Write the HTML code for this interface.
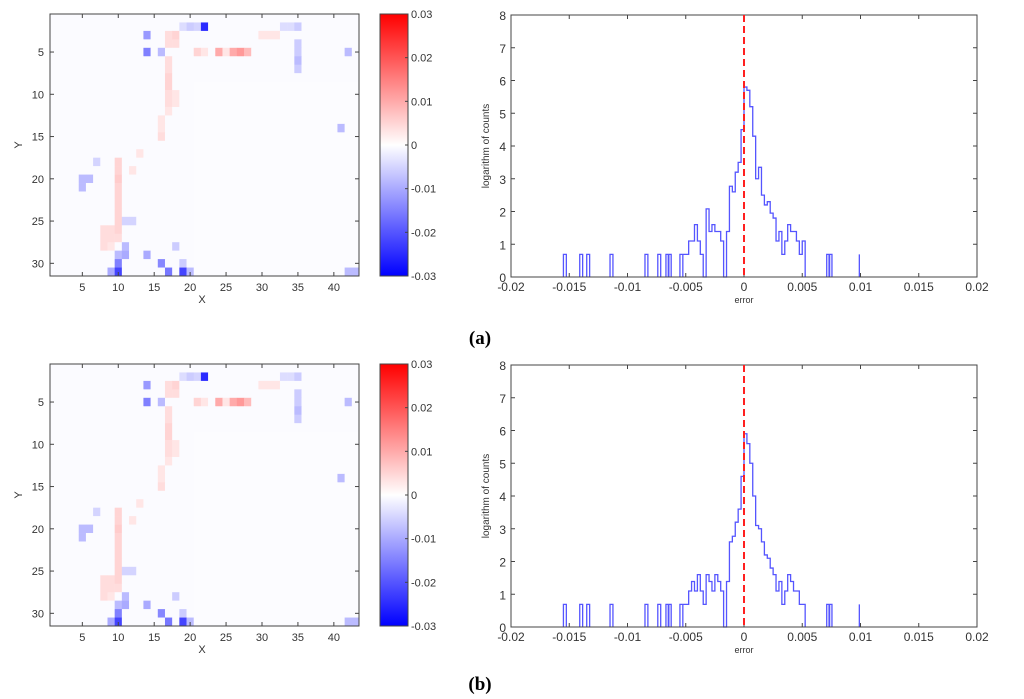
<!DOCTYPE html>
<html><head><meta charset="utf-8">
<style>
html,body{margin:0;padding:0;background:#fff;}
svg{display:block;}
text{font-family:"Liberation Sans",sans-serif;fill:#333;}
</style></head>
<body>
<svg id="fig" width="1024" height="699" viewBox="0 0 1024 699" xmlns="http://www.w3.org/2000/svg">
<defs>
<linearGradient id="cbg" x1="0" y1="1" x2="0" y2="0">
<stop offset="0" stop-color="#0000ff"/><stop offset="0.5" stop-color="#ffffff"/><stop offset="1" stop-color="#ff0000"/>
</linearGradient>
</defs>
<text x="480" y="344" font-weight="bold" font-size="19" text-anchor="middle" style="font-family:'Liberation Serif',serif;fill:#000">(a)</text>
<text x="480" y="690" font-weight="bold" font-size="19" text-anchor="middle" style="font-family:'Liberation Serif',serif;fill:#000">(b)</text>
</svg>
<script>
// ---- data ----
const heatCols = 43, heatRows = 31;
const heatDefault = -0.0005;
// notable cells: [x, y, value]
const heatCells = [
[22,2,-0.025],[21,2,-0.005],[20,2,-0.006],[19,2,-0.004],[14,3,-0.012],[14,5,-0.015],[16,5,-0.008],
[21,5,0.005],[22,5,0.003],[24,5,0.01],[25,5,0.003],[26,5,0.01],[27,5,0.012],[28,5,0.008],
[17,3,0.004],[18,3,0.005],[17,4,0.004],[18,4,0.004],[17,6,0.004],[17,7,0.004],[17,8,0.005],[17,9,0.005],[17,10,0.004],[17,11,0.004],[17,12,0.003],[16,13,0.003],[16,14,0.003],[16,15,0.004],[18,10,0.003],[18,11,0.003],
[30,3,0.003],[31,3,0.003],[32,3,0.003],[33,2,-0.004],[34,2,-0.004],[35,2,-0.006],
[35,4,-0.006],[35,5,-0.006],[35,6,-0.008],[35,7,-0.006],[42,5,-0.008],[41,14,-0.008],
[5,20,-0.008],[5,21,-0.008],[6,20,-0.008],[7,18,-0.005],
[10,18,0.005],[10,19,0.005],[10,20,0.006],[10,21,0.005],[10,22,0.005],[10,23,0.005],[10,24,0.005],[10,25,0.005],[10,26,0.005],[10,27,0.004],
[8,26,0.004],[9,26,0.004],[8,27,0.004],[9,27,0.004],[8,28,0.004],[9,28,0.003],[12,19,0.003],[13,17,0.003],
[10,30,-0.015],[10,31,-0.022],[9,31,-0.01],[11,29,-0.01],[11,28,-0.008],[10,29,-0.008],[16,30,-0.014],[17,31,-0.016],
[19,31,-0.022],[20,31,-0.008],[14,29,-0.01],[19,30,-0.006],[18,28,-0.006],[42,31,-0.008],[43,31,-0.008],[12,25,-0.005],[11,25,-0.005]
];
const cbTicks = [0.03,0.02,0.01,0,-0.01,-0.02,-0.03];
const cbLabels = ['0.03','0.02','0.01','0','-0.01','-0.02','-0.03'];
const heatXTicks = [5,10,15,20,25,30,35,40];
const heatYTicks = [5,10,15,20,25,30];

const histBinStart = -0.00525, histBinWidth = 0.00025;
const histA = [0.69,0.69,1.1,1.1,1.6,1.1,0.69,0,2.08,1.39,1.6,1.39,1.39,1.1,0,1.39,2.77,2.6,3.2,3.5,4.5,5.8,5.7,5.2,4.3,3.0,3.35,2.5,2.2,2.3,1.95,1.8,1.1,1.39,0.69,1.1,1.6,1.39,1.39,1.1,0.69,1.1];
const histB = [0.69,0.69,1.1,1.39,1.1,1.6,1.1,0.69,1.6,1.39,1.1,1.6,1.39,1.1,0,1.39,2.6,2.77,3.2,3.6,4.6,5.9,5.6,5.0,4.0,3.1,3.0,2.6,2.2,2.1,1.8,1.6,1.1,1.39,0.69,1.1,1.6,1.39,1.1,1.1,0.69,0.69];
const spikesA = [-0.0155,-0.0141,-0.0135,-0.0115,-0.0085,-0.0074,-0.0067,-0.0065,-0.0055,0.0071,0.0073];
const spikesB = [-0.0155,-0.0141,-0.0135,-0.0115,-0.0085,-0.0074,-0.0067,-0.0065,-0.0055,0.0071,0.0073];
const spikeH = 0.69;
const thinSpike = 0.0099;
const histXTicks = [-0.02,-0.015,-0.01,-0.005,0,0.005,0.01,0.015,0.02];
const histXLabels = ['-0.02','-0.015','-0.01','-0.005','0','0.005','0.01','0.015','0.02'];
const histYTicks = [0,1,2,3,4,5,6,7,8];

// ---- drawing ----
const NS='http://www.w3.org/2000/svg';
const svg=document.getElementById('fig');
function mk(tag,attrs,parent){const e=document.createElementNS(NS,tag);for(const k in attrs)e.setAttribute(k,attrs[k]);(parent||svg).appendChild(e);return e;}
function col(v){let t=Math.max(-1,Math.min(1,v/0.03));
 if(t>=0){const g=Math.round(255*(1-t));return `rgb(255,${g},${g})`;}
 const g=Math.round(255*(1+t));return `rgb(${g},${g},255)`;}

function drawPanel(dy,hist,spikes,tag){
 const hx0=50,hx1=359,hy0=14+dy,hy1=276+dy;
 const sx=v=>hx0+(v-0.5)*(hx1-hx0)/heatCols, sy=v=>hy0+(v-0.5)*(hy1-hy0)/heatRows;
 const hg=mk('g',{});
 
 
 const grid=[];for(let y=1;y<=heatRows;y++){grid[y]=[];for(let x=1;x<=heatCols;x++)grid[y][x]=(x>20&&y>8)?-0.0003:heatDefault;}
 heatCells.forEach(c=>{grid[c[1]][c[0]]=c[2];});
 for(let y=1;y<=heatRows;y++)for(let x=1;x<=heatCols;x++){
  const r=mk('rect',{x:sx(x-0.5),y:sy(y-0.5),width:(hx1-hx0)/heatCols+0.3,height:(hy1-hy0)/heatRows+0.3,fill:col(grid[y][x])},hg);
  
  
 }
 const hf=mk('rect',{x:hx0,y:hy0,width:hx1-hx0,height:hy1-hy0,fill:'none',stroke:'#444','stroke-width':1});
 
 
 heatXTicks.forEach(t=>{const x=sx(t);
  mk('line',{x1:x,x2:x,y1:hy1,y2:hy1-4,stroke:'#444'});mk('line',{x1:x,x2:x,y1:hy0,y2:hy0+4,stroke:'#444'});
  const tx=mk('text',{x:x,y:hy1+15,'font-size':11,'text-anchor':'middle'});tx.textContent=t;
  
  });
 heatYTicks.forEach(t=>{const y=sy(t);
  mk('line',{x1:hx0,x2:hx0+4,y1:y,y2:y,stroke:'#444'});mk('line',{x1:hx1,x2:hx1-4,y1:y,y2:y,stroke:'#444'});
  const tx=mk('text',{x:hx0-6,y:y+4,'font-size':11,'text-anchor':'end'});tx.textContent=t;
  
  });
 let l=mk('text',{x:202,y:hy1+27,'font-size':11,'text-anchor':'middle'});l.textContent='X';
 
 
 l=mk('text',{x:0,y:0,'font-size':11,'text-anchor':'middle',transform:`translate(22,${(hy0+hy1)/2}) rotate(-90)`});l.textContent='Y';
 
 
 const cx0=380,cx1=408;
 const cb=mk('rect',{x:cx0,y:hy0,width:cx1-cx0,height:hy1-hy0,fill:'url(#cbg)',stroke:'#444'});
 
 
 cbTicks.forEach((t,i)=>{const y=hy1-(t+0.03)/0.06*(hy1-hy0);
  mk('line',{x1:cx1,x2:cx1-3,y1:y,y2:y,stroke:'#444'});
  const tx=mk('text',{x:cx1+3,y:y+4,'font-size':11});tx.textContent=cbLabels[i];
  
  });
 const ax0=511,ax1=977,ay0=15+dy,ay1=277+dy;
 const X=v=>ax0+(v+0.02)/0.04*(ax1-ax0), Y=v=>ay1-v/8*(ay1-ay0);
 const fr=mk('rect',{x:ax0,y:ay0,width:ax1-ax0,height:ay1-ay0,fill:'none',stroke:'#444'});
 
 
 histXTicks.forEach((t,i)=>{const x=X(t);
  mk('line',{x1:x,x2:x,y1:ay1,y2:ay1-4,stroke:'#444'});mk('line',{x1:x,x2:x,y1:ay0,y2:ay0+4,stroke:'#444'});
  const tx=mk('text',{x:x,y:ay1+14,'font-size':12,'text-anchor':'middle'});tx.textContent=histXLabels[i];
  
  });
 histYTicks.forEach(t=>{const y=Y(t);
  mk('line',{x1:ax0,x2:ax0+4,y1:y,y2:y,stroke:'#444'});mk('line',{x1:ax1,x2:ax1-4,y1:y,y2:y,stroke:'#444'});
  const tx=mk('text',{x:ax0-5,y:y+5,'font-size':12,'text-anchor':'end'});tx.textContent=t;
  
  });
 l=mk('text',{x:X(0),y:ay1+26,'font-size':9,'text-anchor':'middle'});l.textContent='error';
 
 
 l=mk('text',{x:0,y:0,'font-size':10,'text-anchor':'middle',transform:`translate(489,${(ay0+ay1)/2}) rotate(-90)`});l.textContent='logarithm of counts';
 
 
 let d=`M${X(histBinStart)},${Y(0)}`;
 hist.forEach((h,i)=>{const a=histBinStart+i*histBinWidth;d+=` L${X(a)},${Y(h)} L${X(a+histBinWidth)},${Y(h)}`;});
 d+=` L${X(histBinStart+hist.length*histBinWidth)},${Y(0)}`;
 spikes.forEach(s=>{d+=` M${X(s)},${Y(0)} L${X(s)},${Y(spikeH)} L${X(s+histBinWidth)},${Y(spikeH)} L${X(s+histBinWidth)},${Y(0)}`;});
 d+=` M${X(thinSpike)},${Y(0)} L${X(thinSpike)},${Y(spikeH)}`;
 const p=mk('path',{d:d,fill:'none',stroke:'#5555ff','stroke-width':1.3});
 
 
 mk('line',{x1:ax0,x2:ax1,y1:ay1,y2:ay1,stroke:'#444'});
 const zl=mk('line',{x1:X(0),x2:X(0),y1:ay0,y2:ay1,stroke:'#ff2020','stroke-width':2,'stroke-dasharray':'7,4'});
 
 
}
drawPanel(0,histA,spikesA,'a');
drawPanel(350,histB,spikesB,'b');
</script>
</body></html>
